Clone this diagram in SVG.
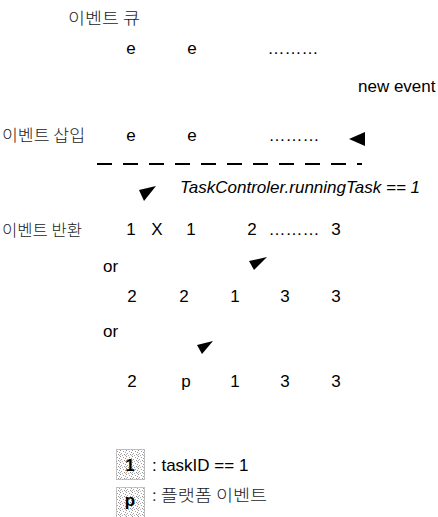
<svg xmlns="http://www.w3.org/2000/svg" width="438" height="517" viewBox="0 0 438 517">
  <defs>
    <style>
      .lat { font-family: "Liberation Sans", Arial, sans-serif; font-size: 17px; fill: #000; }
      .it { font-style: italic; }
      .ko { font-family: "Noto Sans CJK KR", "Liberation Sans", sans-serif; font-size: 16px; font-weight: 300; fill: #1a1a1a; }
      .mid { text-anchor: middle; }
      .bold { font-weight: bold; }
      .head { fill: #000; stroke: none; }
      .dash { stroke: #000; stroke-width: 1.8; stroke-dasharray: 15 11; fill: none; }
      .cell { fill: url(#stipple); stroke: #8a8a8a; stroke-width: 1; stroke-dasharray: 1 1; }
    </style>
    <pattern id="stipple" width="6" height="6" patternUnits="userSpaceOnUse">
      <rect width="6" height="6" fill="#fff"/>
      <rect x="0" y="0" width="1" height="1" fill="#8f8f8f"/>
      <rect x="3" y="1" width="1" height="1" fill="#a0a0a0"/>
      <rect x="5" y="2" width="1" height="1" fill="#999"/>
      <rect x="1" y="3" width="1" height="1" fill="#a5a5a5"/>
      <rect x="4" y="4" width="1" height="1" fill="#909090"/>
      <rect x="2" y="5" width="1" height="1" fill="#aaa"/>
      <rect x="0" y="4" width="1" height="1" fill="#b0b0b0"/>
      <rect x="5" y="5" width="1" height="1" fill="#b5b5b5"/>
    </pattern>
  </defs>
  <rect width="438" height="517" fill="#fff"/>

  <g id="queue-title">
    <text class="ko" x="68" y="24" textLength="72" lengthAdjust="spacingAndGlyphs">이벤트 큐</text>
  </g>
  <g id="queue-row">
    <text class="lat mid" x="131" y="54">e</text>
    <text class="lat mid" x="192" y="54">e</text>
    <text class="lat mid" x="293" y="54">………</text>
  </g>
  <g id="new-event">
    <text class="lat" x="358" y="92">new event</text>
  </g>
  <g id="insert-row">
    <text class="ko" x="2" y="141" textLength="83" lengthAdjust="spacingAndGlyphs">이벤트 삽입</text>
    <text class="lat mid" x="131" y="141">e</text>
    <text class="lat mid" x="192" y="141">e</text>
    <text class="lat mid" x="294" y="141">………</text>
  </g>
  <g id="condition">
    <text class="lat it" x="180" y="193">TaskControler.runningTask == 1</text>
  </g>
  <g id="return-row">
    <text class="ko" x="2" y="236" textLength="80" lengthAdjust="spacingAndGlyphs">이벤트 반환</text>
    <text class="lat mid" x="131" y="235">1</text>
    <text class="lat mid" x="157" y="235">X</text>
    <text class="lat mid" x="191" y="235">1</text>
    <text class="lat mid" x="252" y="235">2</text>
    <text class="lat mid" x="294" y="235">………</text>
    <text class="lat mid" x="336" y="235">3</text>
  </g>
  <g id="or-1">
    <text class="lat" x="103" y="272">or</text>
  </g>
  <g id="alt-row-1">
    <text class="lat mid" x="132" y="302">2</text>
    <text class="lat mid" x="184" y="302">2</text>
    <text class="lat mid" x="235" y="302">1</text>
    <text class="lat mid" x="285" y="302">3</text>
    <text class="lat mid" x="336" y="302">3</text>
  </g>
  <g id="or-2">
    <text class="lat" x="103" y="337">or</text>
  </g>
  <g id="alt-row-2">
    <text class="lat mid" x="132" y="387">2</text>
    <text class="lat mid" x="186" y="387">p</text>
    <text class="lat mid" x="235" y="387">1</text>
    <text class="lat mid" x="285" y="387">3</text>
    <text class="lat mid" x="336" y="387">3</text>
  </g>
  <g id="legend-task">
    <rect class="cell" x="116.5" y="449.5" width="28" height="30"/>
    <text class="lat mid bold" x="130" y="471">1</text>
    <text class="lat" x="152" y="471">: taskID == 1</text>
  </g>
  <g id="legend-platform">
    <rect class="cell" x="116.5" y="487.5" width="28" height="30"/>
    <text class="lat mid bold" x="130" y="506">p</text>
    <text class="ko" x="152" y="501" textLength="115" lengthAdjust="spacingAndGlyphs">: 플랫폼 이벤트</text>
  </g>

  <g id="connectors">
    <line class="dash" x1="97" y1="164" x2="362" y2="164"/>
    <polygon class="head" points="349,139 365,132 365,146"/>
    <polygon class="head" points="139,190 156,186 144,201"/>
    <polygon class="head" points="249,261 267,257 254,270"/>
    <polygon class="head" points="197,345 213,341 202,354"/>
  </g>
</svg>
